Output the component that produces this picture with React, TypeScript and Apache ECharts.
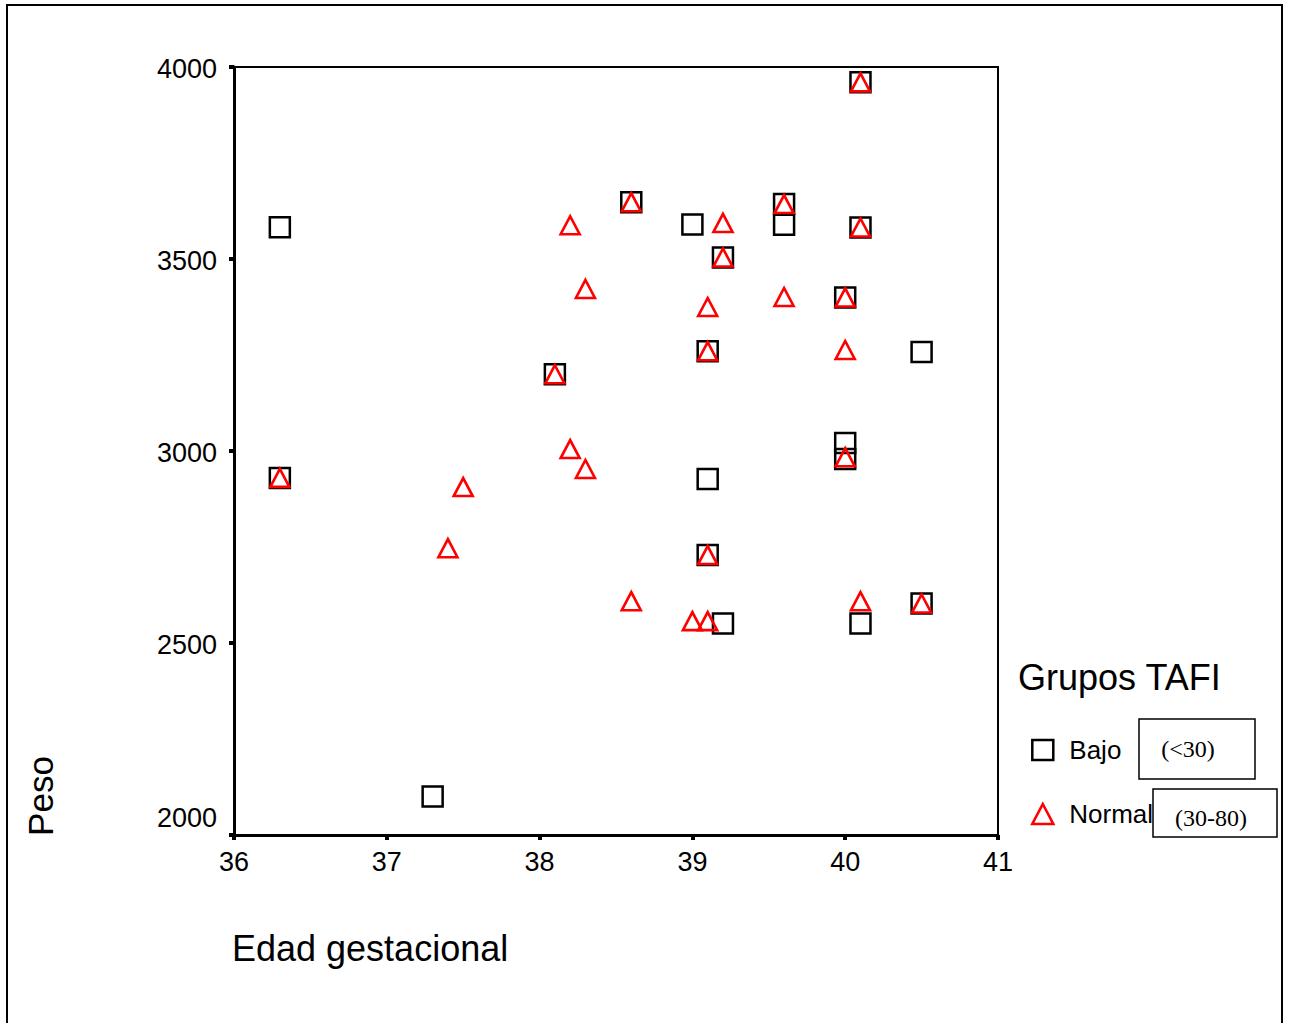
import React, { useEffect, useRef } from "react";
import * as echarts from "echarts";

const xTicks = [36, 37, 38, 39, 40, 41];
const yTicks = [2000, 2500, 3000, 3500, 4000];

const seriesNames = ["Bajo", "Normal"];
const rangeLabels = ["(<30)", "(30-80)"];

const bajoX = [36.3, 36.3, 37.3, 38.1, 38.6, 39.0, 39.1, 39.1, 39.1, 39.2, 39.2, 39.6, 39.6, 40.0, 40.0, 40.0, 40.1, 40.1, 40.1, 40.5, 40.5];
const bajoY = [3583, 2930, 2100, 3200, 3648, 3590, 3260, 2927, 2729, 3504, 2551, 3643, 3589, 3400, 3021, 2979, 3960, 3582, 2551, 3258, 2603];

const normalX = [36.3, 37.4, 37.5, 38.1, 38.2, 38.3, 38.2, 38.3, 38.6, 38.6, 39.0, 39.1, 39.1, 39.1, 39.1, 39.2, 39.2, 39.6, 39.6, 40.0, 40.0, 40.0, 40.1, 40.1, 40.1, 40.5];
const normalY = [2930, 2747, 2906, 3200, 3588, 3422, 3005, 2953, 3648, 2609, 2557, 2557, 3375, 3260, 2729, 3594, 3504, 3643, 3401, 3400, 3263, 2984, 3960, 3582, 2609, 2603];

const SANS = "'Liberation Sans', Arial, sans-serif";
const SERIF = "'Liberation Serif', 'Times New Roman', serif";

export default function App() {
  const ref = useRef<HTMLDivElement>(null);
  useEffect(() => {
    if (!ref.current) return;
    const chart = echarts.init(ref.current, undefined, { renderer: "svg" });
    const squareStyle = { color: "rgba(0,0,0,0)", borderColor: "#000", borderWidth: 2.5, opacity: 1 };
    const triStyle = { color: "rgba(0,0,0,0)", borderColor: "#ff0000", borderWidth: 2.6, opacity: 1 };
    chart.setOption({
      animation: false,
      backgroundColor: "#fff",
      textStyle: { fontFamily: SANS },
      grid: {
        left: 234,
        top: 67,
        right: 292,
        bottom: 188,
        show: true,
        borderColor: "#000",
        borderWidth: 2,
        backgroundColor: "rgba(0,0,0,0)",
      },
      xAxis: {
        type: "value",
        min: xTicks[0],
        max: xTicks[xTicks.length - 1],
        interval: 1,
        axisLine: { show: true, onZero: false, lineStyle: { color: "#000", width: 3 } },
        axisTick: { show: true, length: 5, lineStyle: { color: "#000", width: 4 } },
        axisLabel: { color: "#000", fontSize: 27, margin: 13, fontFamily: SANS },
        splitLine: { show: false },
      },
      yAxis: {
        type: "value",
        min: yTicks[0],
        max: yTicks[yTicks.length - 1],
        interval: 500,
        axisLine: { show: true, onZero: false, lineStyle: { color: "#000", width: 3 } },
        axisTick: { show: true, length: 5, lineStyle: { color: "#000", width: 4 } },
        axisLabel: {
          color: "#000",
          fontSize: 27,
          margin: 17,
          fontFamily: SANS,
          formatter: (v: number) => (v === yTicks[0] ? "{low|" + v + "}" : "{n|" + v + "}"),
          rich: {
            n: { fontSize: 27, fontFamily: SANS, color: "#000", padding: [3, 0, 0, 0] },
            low: { fontSize: 27, fontFamily: SANS, color: "#000", padding: [0, 0, 34, 0] },
          },
        },
        splitLine: { show: false },
      },
      legend: {
        orient: "vertical",
        left: 1031,
        top: 737,
        padding: 0,
        itemWidth: 21,
        itemHeight: 20,
        itemGap: 38,
        textStyle: { fontSize: 26, color: "#000", fontFamily: SANS, padding: [0, 0, 0, 11] },
        data: [
          { name: seriesNames[0], icon: "rect", itemStyle: squareStyle },
          { name: seriesNames[1], icon: "triangle", itemStyle: triStyle },
        ],
      },
      series: [
        {
          name: seriesNames[0],
          type: "scatter",
          symbol: "rect",
          symbolSize: 20,
          itemStyle: squareStyle,
          data: bajoX.map((x, i) => [x, bajoY[i]]),
          z: 2,
        },
        {
          name: seriesNames[1],
          type: "scatter",
          symbol: "triangle",
          symbolSize: [19, 18],
          itemStyle: triStyle,
          data: normalX.map((x, i) => [x, normalY[i]]),
          z: 3,
        },
      ],
      graphic: [
        {
          type: "rect",
          shape: { x: 7, y: 5, width: 1275, height: 1040 },
          style: { fill: "none", stroke: "#000", lineWidth: 2 },
          silent: true,
        },
        {
          type: "text",
          x: 40,
          y: 796,
          rotation: Math.PI / 2,
          style: { text: "Peso", fontSize: 35, fontFamily: SANS, fill: "#000", textAlign: "center", textVerticalAlign: "middle" },
        },
        {
          type: "text",
          x: 232,
          y: 948,
          style: { text: "Edad gestacional", fontSize: 36, fontFamily: SANS, fill: "#000", textAlign: "left", textVerticalAlign: "middle" },
        },
        {
          type: "text",
          x: 1018,
          y: 677,
          style: { text: "Grupos TAFI", fontSize: 36, fontFamily: SANS, fill: "#000", textAlign: "left", textVerticalAlign: "middle" },
        },
        {
          type: "rect",
          shape: { x: 1139, y: 719, width: 116, height: 60 },
          style: { fill: "none", stroke: "#000", lineWidth: 1.5 },
        },
        {
          type: "text",
          x: 1188,
          y: 749,
          style: { text: rangeLabels[0], fontSize: 24, fontFamily: SERIF, fill: "#000", textAlign: "center", textVerticalAlign: "middle" },
        },
        {
          type: "rect",
          shape: { x: 1153, y: 789, width: 124, height: 48 },
          style: { fill: "none", stroke: "#000", lineWidth: 1.5 },
        },
        {
          type: "text",
          x: 1211,
          y: 818,
          style: { text: rangeLabels[1], fontSize: 24, fontFamily: SERIF, fill: "#000", textAlign: "center", textVerticalAlign: "middle" },
        },
      ],
    });
    return () => chart.dispose();
  }, []);
  return (
    <div
      ref={ref}
      style={{ position: "fixed", left: 0, top: 0, width: 1290, height: 1023, background: "#fff" }}
    />
  );
}
